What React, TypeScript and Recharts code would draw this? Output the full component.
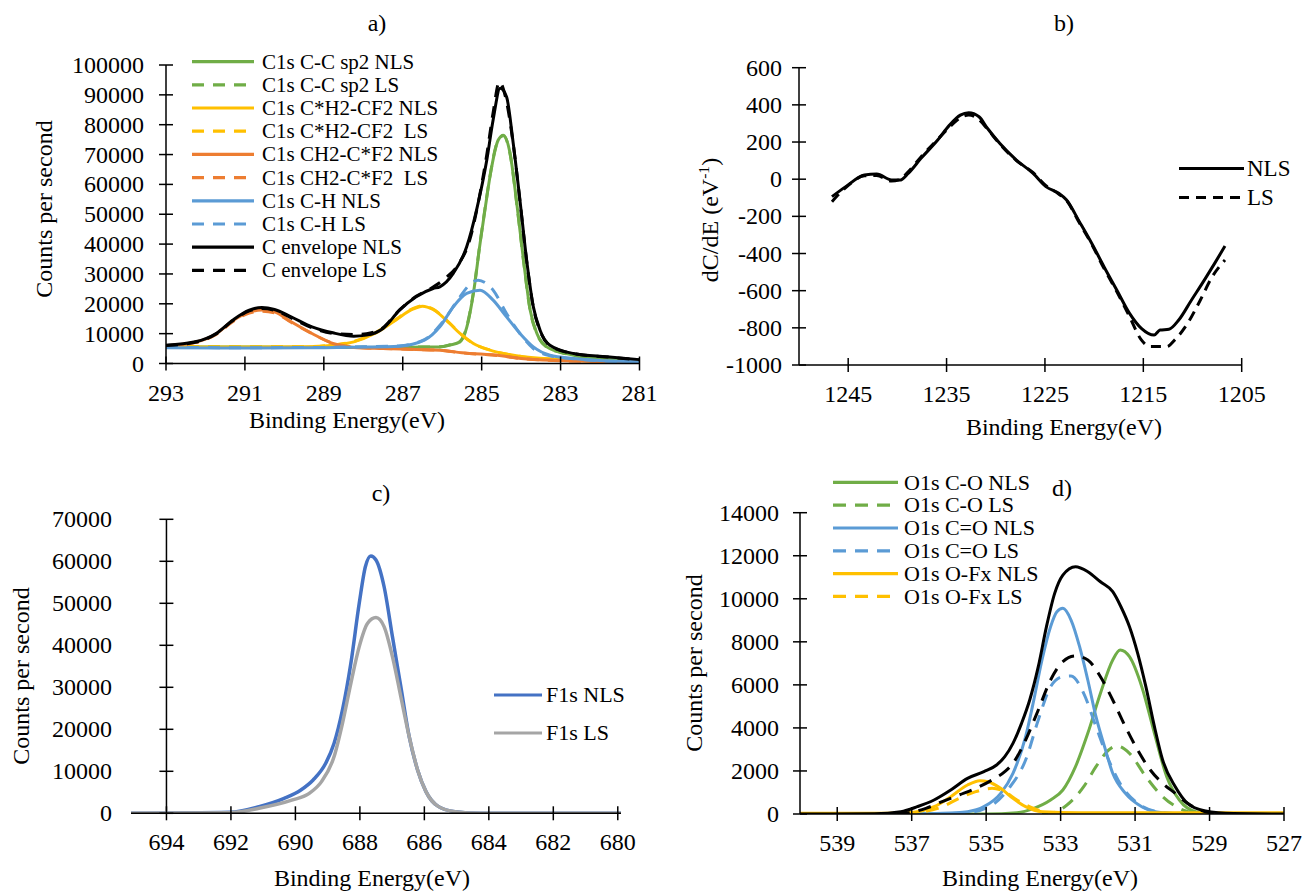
import React from "react";
import { LineChart, Line, XAxis, YAxis, Legend, ReferenceLine } from "recharts";

const FONT = '"Liberation Serif", "Times New Roman", Times, serif';

// ---- a) C1s ----
const aXTicks = [293, 291, 289, 287, 285, 283, 281];
const aYTicks = [0, 10000, 20000, 30000, 40000, 50000, 60000, 70000, 80000, 90000, 100000];
const ccSp2NLS = [[293,5600],[292,5550],[291,5500],[290,5450],[289,5400],[288,5400],[287,5450],[286.5,5500],[286.06,5560],[285.8,6200],[285.55,7240],[285.38,12000],[285.21,23470],[285.04,40230],[284.9,53000],[284.79,62550],[284.58,74860],[284.45,76500],[284.28,70400],[284.11,53640],[283.94,34630],[283.77,17870],[283.6,10060],[283.35,5560],[283,3800],[282.67,2780],[282,1700],[281,1100]];
const ccSp2LS = [[293,5650],[292,5600],[291,5550],[290,5500],[289,5450],[288,5450],[287,5500],[286.5,5550],[286.06,5600],[285.8,6300],[285.55,7400],[285.38,12300],[285.21,23800],[285.04,40500],[284.9,53300],[284.79,62800],[284.58,74900],[284.45,76300],[284.28,70200],[284.11,53400],[283.94,34400],[283.77,17700],[283.6,9900],[283.35,5500],[283,3700],[282.67,2700],[282,1650],[281,1050]];
const ch2cf2NLS = [[293,5550],[291,5500],[289.5,5600],[288.77,6145],[288.24,7262],[287.71,10056],[287.18,14525],[286.76,18100],[286.5,19220],[286.23,18100],[285.81,13400],[285.55,10060],[285.21,6700],[284.79,4470],[284.3,3000],[283.94,2230],[282.67,1100],[281,540]];
const ch2cf2LS = [[293,5600],[291,5550],[289.5,5650],[288.77,6200],[288.24,7400],[287.71,10200],[287.18,14700],[286.76,18300],[286.5,19300],[286.23,18200],[285.81,13500],[285.55,10100],[285.21,6700],[284.79,4500],[284.3,3000],[283.94,2200],[282.67,1100],[281,520]];
const cf2NLS = [[293,5900],[292.26,7100],[291.73,9900],[291.31,14300],[290.89,17200],[290.57,17900],[290.25,17300],[289.83,13970],[289.3,10056],[288.77,6700],[288.24,5360],[287.5,5000],[286.66,4690],[286.06,4470],[285.5,3600],[284.5,2600],[284,1700],[283,1000],[282,700],[281,400]];
const cf2LS = [[293,5850],[292.26,7000],[291.73,9700],[291.31,14000],[290.89,16900],[290.57,17500],[290.25,17000],[289.83,13800],[289.3,10000],[288.77,6800],[288.24,5500],[287.5,5050],[286.66,4700],[286.06,4450],[285.5,3550],[284.5,2550],[284,1650],[283,950],[282,650],[281,380]];
const chNLS = [[293,5300],[291,5200],[289,5300],[288,5500],[287.1,5800],[286.45,7820],[286.06,12290],[285.72,18980],[285.38,23470],[285.04,24580],[284.71,21230],[284.37,15640],[284.03,10060],[283.69,5560],[283.27,2780],[282.67,1680],[282,1000],[281,540]];
const chLS = [[293,5400],[291,5300],[289,5400],[288,5600],[287.1,5900],[286.45,8000],[286.02,13400],[285.55,22330],[285.3,26500],[285.09,27930],[284.9,27000],[284.71,24580],[284.37,16760],[284.03,10056],[283.69,5000],[283.27,2600],[282.67,1600],[281,500]];
const cEnvNLS = [[293,6145],[292.26,7262],[291.73,10056],[291.31,14525],[290.89,17877],[290.57,18770],[290.25,18100],[289.83,15640],[289.3,12290],[288.77,10280],[288.24,9160],[287.92,9500],[287.5,11730],[287.08,17877],[286.66,22350],[286.23,25140],[286.06,25700],[285.72,30170],[285.38,39090],[285.13,51400],[284.87,68150],[284.71,81560],[284.53,92200],[284.37,89370],[284.2,73760],[284.03,54750],[283.86,34630],[283.69,18980],[283.52,11170],[283.27,6140],[282.67,3350],[281.83,2230],[281,1300]];
const cEnvLS = [[293,6000],[292.26,7100],[291.73,9900],[291.31,14300],[290.89,17600],[290.57,18400],[290.25,17800],[289.83,15300],[289.3,12000],[288.77,10100],[288.24,9700],[287.92,10000],[287.5,12000],[287.08,18000],[286.66,22500],[286.23,25600],[285.9,28800],[285.6,33000],[285.3,41500],[285.1,53000],[284.87,70000],[284.71,84000],[284.55,94400],[284.4,89500],[284.2,73500],[284.03,54500],[283.86,34400],[283.69,18800],[283.52,11000],[283.27,6000],[282.67,3300],[281.83,2200],[281,1250]];

// ---- b) derivative ----
const bXTicks = [1245, 1235, 1225, 1215, 1205];
const bYTicks = [-1000, -800, -600, -400, -200, 0, 200, 400, 600];
const dNLS = [[1246.65,-94],[1245.25,-40],[1243.35,22],[1242.1,28],[1240.6,-4],[1239.75,-5],[1238.9,31],[1237.6,112],[1235.9,211],[1234.7,291],[1233.6,345],[1232.75,358],[1231.7,336],[1230.85,274],[1229.6,193],[1227.9,103],[1226.2,31],[1224.9,-40],[1223.6,-76],[1222.8,-112],[1221.5,-229],[1220.25,-345],[1219,-471],[1217.7,-596],[1216.4,-722],[1215.2,-803],[1213.9,-839],[1213.3,-812],[1212.4,-808],[1211.4,-758],[1210.1,-650],[1208.8,-543],[1207.75,-453],[1206.7,-360]];
const dLS = [[1246.65,-121],[1245.25,-45],[1243.35,18],[1242.1,20],[1240.6,-10],[1239.75,-2],[1238.9,40],[1237.6,120],[1235.9,215],[1234.7,280],[1233.6,330],[1232.75,345],[1231.7,320],[1230.85,270],[1229.6,190],[1227.9,100],[1226.2,35],[1224.9,-35],[1223.6,-80],[1222.8,-115],[1221.5,-235],[1220.25,-350],[1219,-480],[1217.7,-605],[1216.4,-740],[1215.2,-865],[1214.3,-901],[1212.6,-901],[1211.8,-865],[1210.5,-776],[1209.2,-650],[1208,-525],[1206.7,-435]];

// ---- c) F1s ----
const cXTicks = [694, 692, 690, 688, 686, 684, 682, 680];
const cYTicks = [0, 10000, 20000, 30000, 40000, 50000, 60000, 70000];
const f1sNLS = [[695.1,0],[692.03,240],[691.13,1590],[690.35,3570],[689.83,5560],[689.45,7940],[689.06,11900],[688.8,16670],[688.54,24600],[688.28,35700],[688.02,50000],[687.83,58700],[687.66,61270],[687.5,60320],[687.25,54000],[686.99,42060],[686.73,30160],[686.47,18250],[686.21,10320],[685.95,5160],[685.56,1590],[685.05,400],[684.27,0],[679.9,0]];
const f1sLS = [[695.1,0],[692.03,160],[691.13,1190],[690.09,3175],[689.57,4760],[689.19,7540],[688.8,13500],[688.54,21430],[688.28,30950],[688.02,39680],[687.76,45240],[687.5,46590],[687.25,44450],[686.99,37300],[686.73,27780],[686.47,18250],[686.21,10320],[685.95,5160],[685.56,1590],[685.05,400],[684.27,0],[679.9,0]];

// ---- d) O1s ----
const dXTicks = [539, 537, 535, 533, 531, 529, 527];
const dYTicks = [0, 2000, 4000, 6000, 8000, 10000, 12000, 14000];
const coNLS = [[540,0],[535,0],[534.17,62],[533.72,263],[533.27,650],[532.94,1115],[532.6,2200],[532.27,3748],[531.93,5606],[531.6,7155],[531.4,7620],[531.15,7310],[530.82,5916],[530.48,3748],[530.15,1735],[529.81,650],[529.37,108],[528.8,0],[527,0]];
const coLS = [[533.5,0],[533.27,30],[532.83,418],[532.38,1270],[532.05,2200],[531.71,2973],[531.49,3160],[531.15,2819],[530.71,1735],[530.26,805],[529.81,263],[529.37,40],[529,0]];
const c2oNLS = [[537.5,0],[537.07,5],[536.18,30],[535.5,108],[535.06,340],[534.61,960],[534.28,1890],[533.94,3593],[533.72,5297],[533.5,7155],[533.27,8704],[533.1,9400],[532.94,9555],[532.72,9013],[532.49,7775],[532.27,6226],[532.05,4522],[531.82,3128],[531.6,1890],[531.26,960],[530.82,340],[530.26,60],[529.5,0]];
const c2oLS = [[536.5,0],[535.5,60],[534.84,418],[534.39,1192],[533.94,2509],[533.6,4367],[533.27,5916],[532.94,6380],[532.72,6411],[532.38,5606],[532.05,4058],[531.71,2509],[531.38,1347],[530.93,496],[530.37,90],[529.8,0]];
const ofxNLS = [[540,30],[538,40],[537.07,62],[536.4,340],[535.95,805],[535.5,1347],[535.17,1549],[534.95,1500],[534.61,1192],[534.28,728],[533.94,340],[533.5,108],[532.5,60],[527,60]];
const ofxLS = [[537.2,0],[536.85,62],[536.18,340],[535.73,728],[535.28,1037],[534.84,1192],[534.5,1037],[534.17,650],[533.72,263],[533.27,40],[532.8,0]];
const oEnvNLS = [[540,0],[538,10],[537.29,108],[536.85,340],[536.4,650],[535.95,1115],[535.5,1657],[535.06,1967],[534.72,2277],[534.5,2664],[534.28,3283],[534.05,4212],[533.83,5297],[533.6,6845],[533.38,8704],[533.16,10250],[532.94,11100],[532.6,11490],[532.27,11260],[531.93,10790],[531.6,10330],[531.38,9630],[531.15,8700],[530.93,7465],[530.71,5916],[530.48,4058],[530.26,2509],[529.92,1270],[529.59,496],[529.14,155],[528.36,20],[527,0]];
const oEnvLS = [[537.4,0],[537.07,62],[536.62,263],[536.18,573],[535.73,883],[535.28,1192],[534.84,1580],[534.5,1967],[534.28,2354],[533.94,3438],[533.6,4832],[533.27,6226],[532.94,7078],[532.6,7341],[532.27,7155],[531.93,6380],[531.6,5297],[531.26,4058],[530.93,2973],[530.59,2044],[530.26,1425],[529.92,960],[529.59,496],[529.25,186],[528.8,0]];

const GREEN = "#70AD47", YELLOW = "#FFC000", ORANGE = "#ED7D31", BLUE = "#5B9BD5", BLACK = "#000000";
const pts = (arr: number[][]) => arr.map(([e, v]) => ({ e, v }));

type Series = { name: string; data: number[][]; color: string; dash?: string; width?: number };

const seriesA: Series[] = [
  { name: "C1s C-C sp2 NLS", data: ccSp2NLS, color: GREEN },
  { name: "C1s C-C sp2 LS", data: ccSp2LS, color: GREEN, dash: "12 9" },
  { name: "C1s C*H2-CF2 NLS", data: ch2cf2NLS, color: YELLOW },
  { name: "C1s C*H2-CF2  LS", data: ch2cf2LS, color: YELLOW, dash: "12 9" },
  { name: "C1s CH2-C*F2 NLS", data: cf2NLS, color: ORANGE },
  { name: "C1s CH2-C*F2  LS", data: cf2LS, color: ORANGE, dash: "12 9" },
  { name: "C1s C-H NLS", data: chNLS, color: BLUE },
  { name: "C1s C-H LS", data: chLS, color: BLUE, dash: "12 9" },
  { name: "C envelope NLS", data: cEnvNLS, color: BLACK },
  { name: "C envelope LS", data: cEnvLS, color: BLACK, dash: "12 9" },
];
const seriesB: Series[] = [
  { name: "NLS", data: dNLS, color: BLACK },
  { name: "LS", data: dLS, color: BLACK, dash: "10 7" },
];
const seriesC: Series[] = [
  { name: "F1s NLS", data: f1sNLS, color: "#4472C4", width: 3.5 },
  { name: "F1s LS", data: f1sLS, color: "#A5A5A5", width: 3.5 },
];
const seriesD: Series[] = [
  { name: "O1s C-O NLS", data: coNLS, color: GREEN },
  { name: "O1s C-O LS", data: coLS, color: GREEN, dash: "13 9" },
  { name: "O1s C=O NLS", data: c2oNLS, color: BLUE },
  { name: "O1s C=O LS", data: c2oLS, color: BLUE, dash: "13 9" },
  { name: "O1s O-Fx NLS", data: ofxNLS, color: YELLOW },
  { name: "O1s O-Fx LS", data: ofxLS, color: YELLOW, dash: "13 9" },
  { name: "", data: oEnvNLS, color: BLACK },
  { name: " ", data: oEnvLS, color: BLACK, dash: "13 9" },
];

const XTick = (p: any) => {
  const { x, y, payload } = p;
  return (
    <g>
      <line x1={x} x2={x} y1={y - 7} y2={y + 7} stroke="#000" strokeWidth={1.5} />
      <text x={x} y={y + 37} textAnchor="middle" fontSize={24} fontFamily={FONT} fill="#000">{payload.value}</text>
    </g>
  );
};

const YTick = (p: any) => {
  const { x, y, payload, labelGap, shift = 0 } = p;
  return (
    <g>
      <line x1={x + shift - 7} x2={x + shift + 7} y1={y} y2={y} stroke="#000" strokeWidth={1.5} />
      <text x={x - labelGap} y={y + 8} textAnchor="end" fontSize={24} fontFamily={FONT} fill="#000">{payload.value}</text>
    </g>
  );
};

type LegendCfg = { x: number; y: number; step: number; lineLen: number; gap: number; fontSize: number };

const LegendBox = ({ payload, series, cfg }: { payload: any[]; series: Series[]; cfg: LegendCfg }) => {
  const idx = (r: any) => series.findIndex((q) => q.name === r.value);
  const rows = (payload || [])
    .filter((r: any) => String(r.value).trim() !== "")
    .slice()
    .sort((a: any, b: any) => idx(a) - idx(b));
  return (
    <svg width={cfg.lineLen + cfg.gap + 260} height={rows.length * cfg.step + 2} style={{ display: "block", overflow: "visible" }}>
      {rows.map((r: any, i: number) => {
        const s = series[idx(r)];
        const cy = cfg.step / 2 + i * cfg.step;
        return (
          <g key={i}>
            <line x1={0} x2={cfg.lineLen} y1={cy} y2={cy} stroke={s ? s.color : r.color} strokeWidth={3.2} strokeDasharray={s?.dash} />
            <text x={cfg.lineLen + cfg.gap} y={cy + cfg.fontSize * 0.33} fontSize={cfg.fontSize} fontFamily={FONT} fill="#000" style={{ whiteSpace: "pre" }}>{r.value}</text>
          </g>
        );
      })}
    </svg>
  );
};

type PanelProps = {
  series: Series[];
  plot: { left: number; top: number; right: number; bottom: number };
  xDomain: [number, number];
  xTicks: number[];
  yDomain: [number, number];
  yTicks: number[];
  labelGap: number;
  yAxisAt?: number;
  yShift?: number;
  legend: LegendCfg;
};

const W = 1303, H = 892;
const AX = 30; // room reserved for axes

function Panel({ series, plot, xDomain, xTicks, yDomain, yTicks, labelGap, yAxisAt, yShift = 0, legend }: PanelProps) {
  return (
    <div style={{ position: "absolute", left: 0, top: 0 }}>
      <LineChart width={W} height={H}
        margin={{ left: plot.left - AX, top: plot.top, right: W - plot.right, bottom: H - plot.bottom - AX }}>
        <XAxis type="number" dataKey="e" domain={xDomain} reversed allowDataOverflow ticks={xTicks} interval={0}
          height={AX} tickSize={0} tickMargin={0} tickLine={false} axisLine={{ stroke: "#000", strokeWidth: 1.5 }} tick={<XTick />} />
        <YAxis type="number" domain={yDomain} allowDataOverflow ticks={yTicks} interval={0} width={AX} tickSize={0} tickMargin={0}
          tickLine={false} axisLine={yAxisAt === undefined ? { stroke: "#000", strokeWidth: 1.5 } : false}
          tick={<YTick labelGap={labelGap} shift={yShift} />} />
        {yAxisAt !== undefined && <ReferenceLine x={yAxisAt} stroke="#000" strokeWidth={1.5} />}
        <Legend layout="vertical" align="center" verticalAlign="middle"
          wrapperStyle={{ left: legend.x, top: legend.y, width: "auto", height: "auto" }}
          content={(p: any) => <LegendBox payload={p.payload} series={series} cfg={legend} />} />
        {series.map((s, i) => (
          <Line key={i} data={pts(s.data)} dataKey="v" name={s.name} type="monotone" stroke={s.color}
            strokeWidth={s.width ?? 3} strokeDasharray={s.dash} dot={false} activeDot={false}
            legendType={s.name.trim() ? "line" : "none"} isAnimationActive={false} />
        ))}
      </LineChart>
    </div>
  );
}

const Txt = ({ x, y, children, size = 24, rotate = false }: any) => (
  <div style={{ position: "absolute", left: x, top: y, transform: `translate(-50%, -50%)${rotate ? " rotate(-90deg)" : ""}`,
    whiteSpace: "nowrap", fontSize: size, lineHeight: 1, fontFamily: FONT, color: "#000" }}>{children}</div>
);

export default function App() {
  return (
    <div style={{ position: "absolute", left: 0, top: 0, width: W, height: H, background: "#fff", overflow: "hidden" }}>
      <Panel series={seriesA} plot={{ left: 166, top: 65, right: 639.5, bottom: 363.5 }} xDomain={[281, 293]} xTicks={aXTicks}
        yDomain={[0, 100000]} yTicks={aYTicks} labelGap={22}
        legend={{ x: 191.7, y: 50.2, step: 23.2, lineLen: 62, gap: 8, fontSize: 21 }} />
      <Panel series={seriesB} plot={{ left: 799, top: 67.7, right: 1241.7, bottom: 365 }} xDomain={[1205, 1250]} xTicks={bXTicks}
        yDomain={[-1000, 600]} yTicks={bYTicks} labelGap={17}
        legend={{ x: 1179, y: 153.5, step: 29, lineLen: 65, gap: 3, fontSize: 23 }} />
      <Panel series={seriesC} plot={{ left: 131, top: 519.3, right: 621, bottom: 813.3 }} xDomain={[679.9, 695.1]} xTicks={cXTicks}
        yDomain={[0, 70000]} yTicks={cYTicks} labelGap={19} yAxisAt={694} yShift={35.4}
        legend={{ x: 494, y: 676, step: 38, lineLen: 48, gap: 4, fontSize: 22 }} />
      <Panel series={seriesD} plot={{ left: 800, top: 512.7, right: 1284, bottom: 814 }} xDomain={[527, 540]} xTicks={dXTicks}
        yDomain={[0, 14000]} yTicks={dYTicks} labelGap={21}
        legend={{ x: 833, y: 471.3, step: 22.8, lineLen: 65, gap: 6, fontSize: 22 }} />

      <Txt x={377} y={23}>a)</Txt>
      <Txt x={1064} y={23}>b)</Txt>
      <Txt x={381} y={493}>c)</Txt>
      <Txt x={1062} y={488}>d)</Txt>

      <Txt x={347} y={420}>Binding Energy(eV)</Txt>
      <Txt x={1064} y={427}>Binding Energy(eV)</Txt>
      <Txt x={372} y={878}>Binding Energy(eV)</Txt>
      <Txt x={1040} y={878}>Binding Energy(eV)</Txt>

      <Txt x={44} y={209} rotate>Counts per second</Txt>
      <Txt x={710} y={220} rotate>dC/dE (eV<sup style={{ fontSize: "0.65em", verticalAlign: "0.6em", lineHeight: 0 }}>-1</sup>)</Txt>
      <Txt x={21} y={676} rotate>Counts per second</Txt>
      <Txt x={694} y={663} rotate>Counts per second</Txt>
    </div>
  );
}
